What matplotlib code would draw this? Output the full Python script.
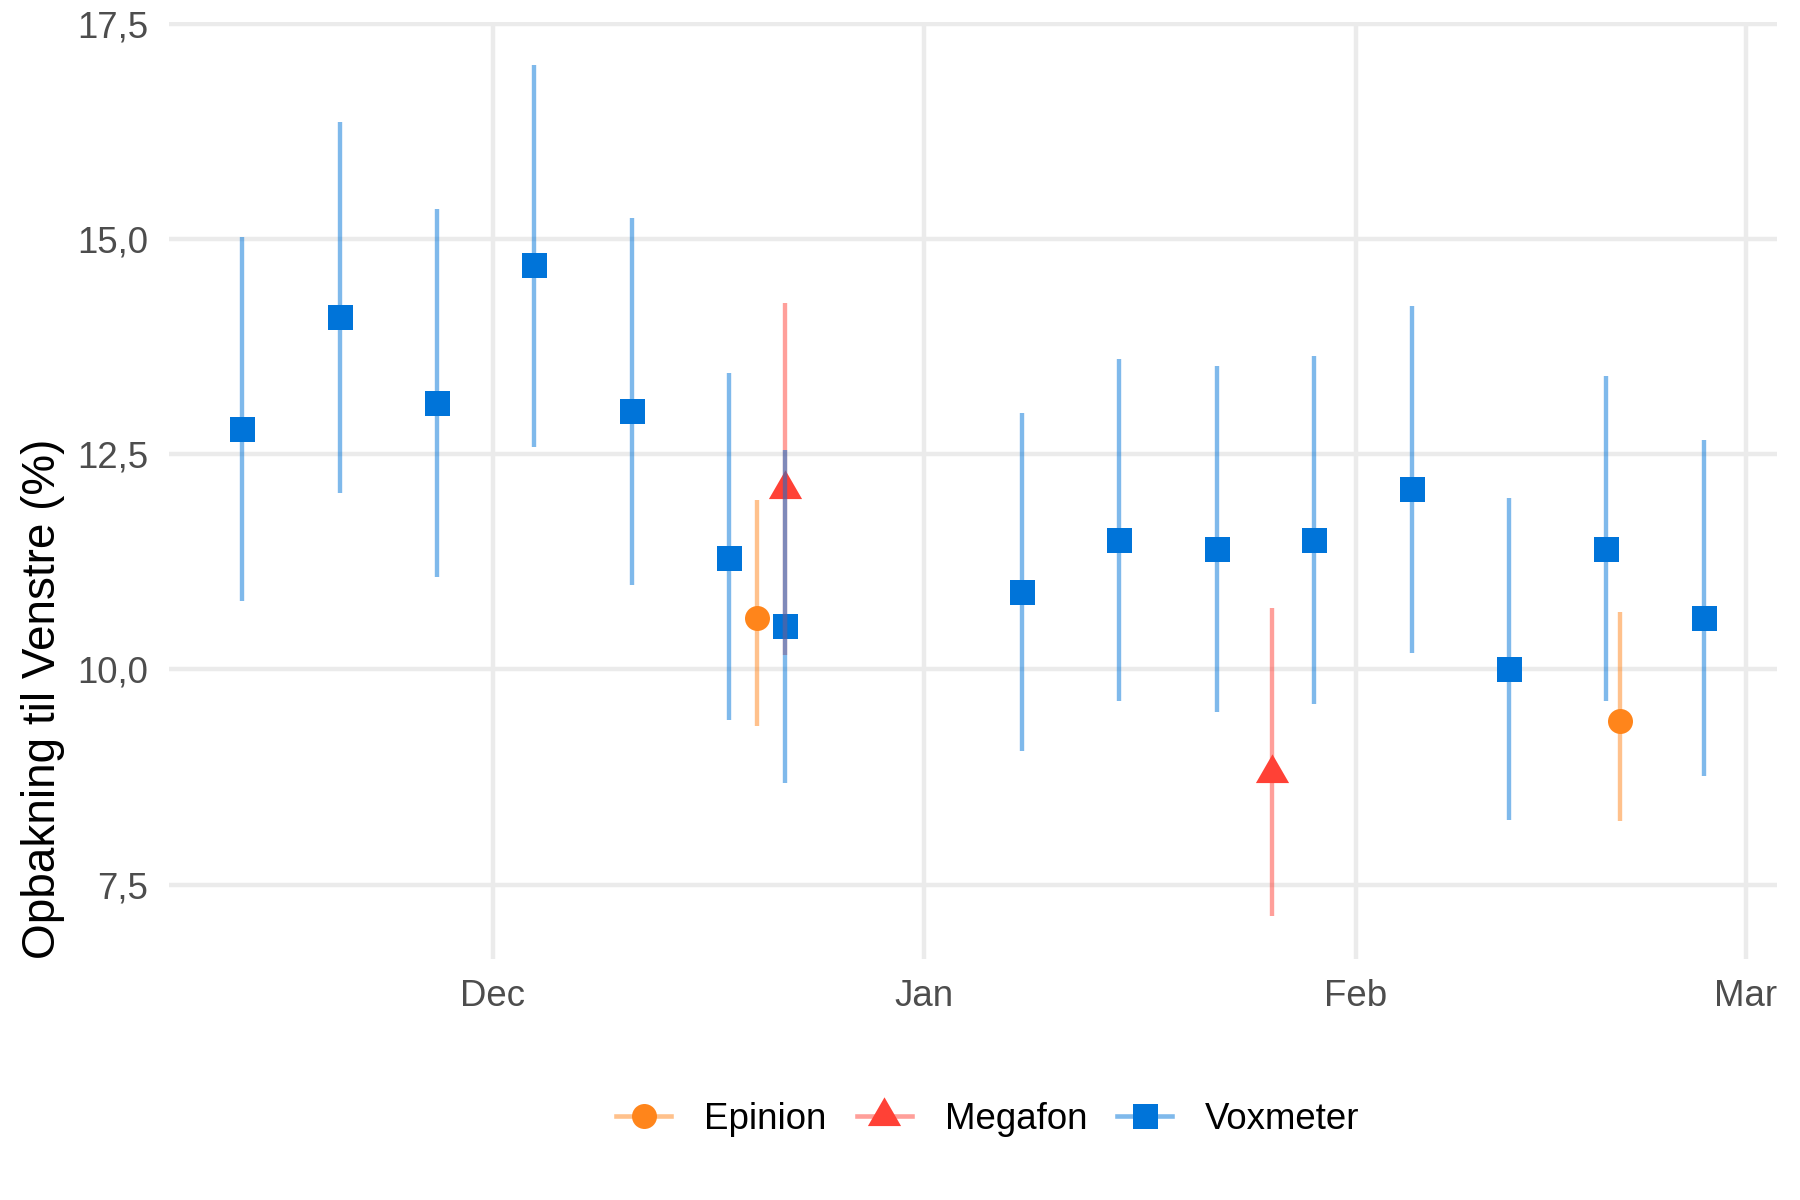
import matplotlib
matplotlib.use("Agg")
import matplotlib.pyplot as plt
import matplotlib.dates as mdates
from matplotlib.lines import Line2D
from matplotlib.path import Path
from matplotlib.ticker import FuncFormatter, FixedLocator
import numpy as np
import pandas as pd

# ---------------- data ----------------
pollsters = ["Epinion", "Megafon", "Voxmeter"]
colors = {"Epinion": "#FF851B", "Megafon": "#FF4136", "Voxmeter": "#0074D9"}

epinion_dates = ["2022-12-20", "2023-02-20"]
epinion_val = [10.6, 9.4]
epinion_lo = [9.34, 8.24]
epinion_hi = [11.97, 10.67]

megafon_dates = ["2022-12-22", "2023-01-26"]
megafon_val = [12.1, 8.8]
megafon_lo = [10.17, 7.13]
megafon_hi = [14.26, 10.72]

voxmeter_dates = ["2022-11-13", "2022-11-20", "2022-11-27", "2022-12-04", "2022-12-11",
                  "2022-12-18", "2022-12-22", "2023-01-08", "2023-01-15", "2023-01-22",
                  "2023-01-29", "2023-02-05", "2023-02-12", "2023-02-19", "2023-02-26"]
voxmeter_val = [12.8, 14.1, 13.1, 14.7, 13.0, 11.3, 10.5, 10.9, 11.5, 11.4, 11.5, 12.1, 10.0, 11.4, 10.6]
voxmeter_lo = [10.80, 12.05, 11.08, 12.58, 10.98, 9.41, 8.68, 9.05, 9.63, 9.50, 9.60, 10.19, 8.25, 9.63, 8.76]
voxmeter_hi = [15.03, 16.36, 15.35, 17.03, 15.25, 13.44, 12.55, 12.98, 13.61, 13.53, 13.64, 14.22, 11.99, 13.41, 12.67]

month_ticks = ["2022-12-01", "2023-01-01", "2023-02-01", "2023-03-01"]
month_labels = ["Dec", "Jan", "Feb", "Mar"]
y_ticks = [7.5, 10.0, 12.5, 15.0, 17.5]
y_label = "Opbakning til Venstre (%)"

series = {
    "Epinion": (epinion_dates, epinion_val, epinion_lo, epinion_hi),
    "Megafon": (megafon_dates, megafon_val, megafon_lo, megafon_hi),
    "Voxmeter": (voxmeter_dates, voxmeter_val, voxmeter_lo, voxmeter_hi),
}

# ---------------- style ----------------
plt.rcParams["font.family"] = ["Liberation Sans", "DejaVu Sans"]

# equilateral triangle centred on its centroid (like R's pch 17)
tri = Path([(0, 1), (-0.8660254, -0.5), (0.8660254, -0.5), (0, 1)],
           [Path.MOVETO, Path.LINETO, Path.LINETO, Path.CLOSEPOLY])
markers = {"Epinion": ("o", 6.0), "Megafon": (tri, 9.2), "Voxmeter": ("s", 6.0)}

fig = plt.figure(figsize=(6, 4), dpi=300)
ax = fig.add_axes([169 / 1800, 1 - 959 / 1200, (1777 - 169) / 1800, (959 - 22) / 1200])

all_dates, all_lo, all_hi = [], [], []
# points first
for name in pollsters:
    d, v, lo, hi = series[name]
    dd = pd.to_datetime(d)
    m, ms = markers[name]
    ax.plot(dd, v, linestyle="none", marker=m, markersize=ms,
            color=colors[name], markeredgewidth=0, zorder=3)
    all_dates += list(dd)
    all_lo += lo
    all_hi += hi
# then ranges on top
for name in pollsters:
    d, v, lo, hi = series[name]
    dd = pd.to_datetime(d)
    ax.vlines(dd, lo, hi, colors=colors[name], alpha=0.5, linewidth=1.05, zorder=4)

# limits with 5% expansion (ggplot default)
xmin = mdates.date2num(min(all_dates)); xmax = mdates.date2num(max(all_dates))
xr = xmax - xmin
ax.set_xlim(xmin - 0.05 * xr, xmax + 0.05 * xr)
ymin = min(all_lo); ymax = max(all_hi)
yr = ymax - ymin
ax.set_ylim(ymin - 0.05 * yr, ymax + 0.05 * yr)

ax.xaxis.set_major_locator(FixedLocator(mdates.date2num(pd.to_datetime(month_ticks))))
ax.set_xticklabels(month_labels)
ax.yaxis.set_major_locator(FixedLocator(y_ticks))
ax.yaxis.set_major_formatter(FuncFormatter(lambda v, p: f"{v:.1f}".replace(".", ",")))

for s in ax.spines.values():
    s.set_visible(False)
ax.grid(True, color="#EBEBEB", linewidth=1.07, zorder=0)
ax.set_axisbelow(True)
ax.tick_params(axis="both", length=0, labelsize=8.8, labelcolor="#4D4D4D")
ax.tick_params(axis="x", pad=4.8)
ax.tick_params(axis="y", pad=5.0)

ax.set_ylabel(y_label, fontsize=11, color="black", ha="left", va="center")
ax.yaxis.set_label_coords(-0.0784, 0.0)

handles = []
for name in pollsters:
    m, ms = markers[name]
    r, g, b = matplotlib.colors.to_rgb(colors[name])
    handles.append(Line2D([0], [0], color=(r, g, b, 0.5), linewidth=1.1,
                          marker=m, markersize=ms, markerfacecolor=colors[name],
                          markeredgewidth=0))
leg = fig.legend(handles, pollsters, loc="center", bbox_to_anchor=(0.5488, 0.067),
                 ncol=3, frameon=False, fontsize=8.8, handlelength=1.5,
                 handletextpad=0.9, columnspacing=0.82)

fig.savefig("out.png", dpi=300, facecolor="white")
